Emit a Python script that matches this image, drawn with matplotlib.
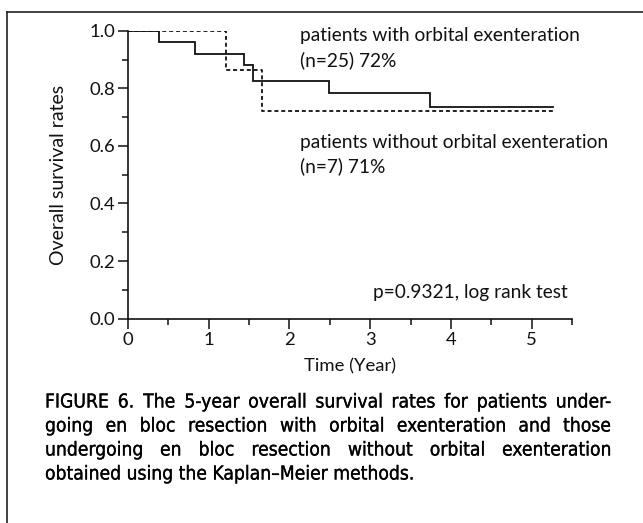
import matplotlib
matplotlib.use("Agg")
import matplotlib.pyplot as plt
import matplotlib.patheffects as pe
from matplotlib.lines import Line2D
from matplotlib.ticker import MultipleLocator

# Data
with_times = [0, 0.38, 0.83, 1.44, 1.55, 2.49, 3.74, 5.26]
with_surv = [1.0, 0.96, 0.92, 0.88, 0.826, 0.783, 0.735, 0.735]
without_times = [0, 1.22, 1.66, 5.26]
without_surv = [1.0, 0.864, 0.72, 0.72]
label_with = ["patients with orbital exenteration", "(n=25) 72%"]
label_without = ["patients without orbital exenteration", "(n=7) 71%"]
p_text = "p=0.9321, log rank test"
caption_lines = [
    "FIGURE 6. The 5-year overall survival rates for patients under-",
    "going en bloc resection with orbital exenteration and those",
    "undergoing en bloc resection without orbital exenteration",
    "obtained using the Kaplan\u2013Meier methods.",
]

W, H = 643, 523
fig = plt.figure(figsize=(W / 100, H / 100), dpi=100)
fig.patch.set_facecolor("white")

chart_font = "Lato"
cap_font = "DejaVu Sans"

ax = fig.add_axes([128 / W, (H - 318.5) / H, (572 - 128) / W, (318.5 - 31) / H])
ax.step(with_times, with_surv, where="post", color="#111111", lw=1.3, solid_joinstyle="miter")
ax.step(without_times, without_surv, where="post", color="#111111", lw=1.3,
        linestyle=(0, (2.2, 1.6)))
ax.set_xlim(0, 5.5)
ax.set_ylim(0, 1.0)
for s in ["top", "right"]:
    ax.spines[s].set_visible(False)
for s in ["left", "bottom"]:
    ax.spines[s].set_linewidth(1.2)
    ax.spines[s].set_color("#111111")
ax.xaxis.set_major_locator(MultipleLocator(1))
ax.xaxis.set_minor_locator(MultipleLocator(0.5))
ax.yaxis.set_major_locator(MultipleLocator(0.2))
ax.yaxis.set_minor_locator(MultipleLocator(0.1))
ax.tick_params(which="major", direction="out", length=7, width=1.1, color="#111111",
               labelsize=13.3, pad=2.5)
ax.tick_params(which="minor", direction="out", length=4.5, width=1.1, color="#111111")
ax.set_yticks([0, 0.2, 0.4, 0.6, 0.8, 1.0])
ax.set_yticklabels(["0.0", "0.2", "0.4", "0.6", "0.8", "1.0"])
for lab in ax.get_xticklabels() + ax.get_yticklabels():
    lab.set_fontfamily(chart_font)
    lab.set_color("#111111")
ax.set_xlabel("Time (Year)", fontsize=13.3, fontfamily=chart_font, labelpad=8, color="#111111")
ax.set_ylabel("Overall survival rates", fontsize=14, fontfamily=chart_font, labelpad=16,
              color="#111111")

tk = dict(fontsize=13.8, fontfamily=chart_font, color="#111111", va="center", ha="left")
ax.text(2.13, 0.984, label_with[0], **tk)
ax.text(2.13, 0.90, label_with[1], **tk)
ax.text(2.13, 0.612, label_without[0], **tk)
ax.text(2.13, 0.53, label_without[1], **tk)
ax.text(3.03, 0.092, p_text, **tk)

# border (top and left)
fig.add_artist(Line2D([7 / W, 7 / W], [0, (H - 11.5) / H], transform=fig.transFigure,
                      color="#222222", lw=1.2))
fig.add_artist(Line2D([7 / W, 1], [(H - 11.5) / H, (H - 11.5) / H], transform=fig.transFigure,
                      color="#222222", lw=1.2))

# caption, justified
left_px, right_px = 45, 611
line_y = [402, 426, 450, 474]
cap_size = 13.8
cap_kw = dict(fontsize=cap_size, fontfamily=cap_font, fontstretch="condensed",
              va="center", ha="left", color="#000000",
              path_effects=[pe.withStroke(linewidth=0.2, foreground="#000000")])
renderer = fig.canvas.get_renderer()
for i, (line, yy) in enumerate(zip(caption_lines, line_y)):
    yf = (H - yy) / H
    words = line.split(" ")
    if i == len(caption_lines) - 1:
        fig.text(left_px / W, yf, line, **cap_kw)
        continue
    texts = [fig.text(0, yf, w, **cap_kw) for w in words]
    widths = [t.get_window_extent(renderer).width for t in texts]
    gap = max((right_px - left_px - sum(widths)) / (len(words) - 1), 3)
    x = left_px
    for t, wd in zip(texts, widths):
        t.set_x(x / W)
        x += wd + gap

fig.savefig("out.png", dpi=100)
